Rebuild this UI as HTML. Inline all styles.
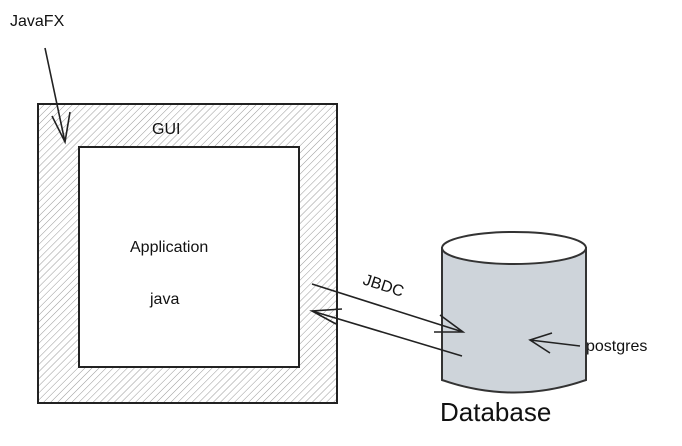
<!DOCTYPE html>
<html><head><style>body{margin:0;background:#fff;width:682px;height:441px;overflow:hidden}</style></head>
<body>
<svg width="682" height="441" xmlns="http://www.w3.org/2000/svg" font-family="'Comic Sans MS','Liberation Sans',sans-serif">
<defs>
<pattern id="h" width="5" height="5" patternUnits="userSpaceOnUse" patternTransform="rotate(45)">
<line x1="0" y1="0" x2="0" y2="5" stroke="#999" stroke-width="1"/>
</pattern>
</defs>
<rect x="38" y="104" width="299" height="299" fill="url(#h)" stroke="#222" stroke-width="2"/>
<rect x="79" y="147" width="220" height="220" fill="#fff" stroke="#222" stroke-width="2"/>
<text x="10" y="26" font-size="16" fill="#111">JavaFX</text>
<text x="152" y="134" font-size="16" fill="#111">GUI</text>
<text x="130" y="252" font-size="16" fill="#111">Application</text>
<text x="150" y="304" font-size="16" fill="#111">java</text>
<path d="M45 48 L65 142 M52 116 L65 142 L70 112" fill="none" stroke="#222" stroke-width="1.6"/>
<path d="M442 248 L442 380 Q514 405 586 380 L586 248 Z" fill="#ced4da" stroke="#333" stroke-width="2"/>
<ellipse cx="514" cy="248" rx="72" ry="16" fill="#fff" stroke="#333" stroke-width="2"/>
<path d="M312 284 L463 332 M440 315 L463 332 L434 332" fill="none" stroke="#222" stroke-width="1.6"/>
<path d="M462 356 L312 311 M342 309 L312 311 L336 324" fill="none" stroke="#222" stroke-width="1.6"/>
<text x="362" y="284" font-size="16" fill="#111" transform="rotate(18 362 284)">JBDC</text>
<path d="M580 346 L530 340 M552 333 L530 340 L550 353" fill="none" stroke="#222" stroke-width="1.6"/>
<text x="586" y="351" font-size="16" fill="#111">postgres</text>
<text x="440" y="421" font-size="26" fill="#111">Database</text>
</svg>
</body></html>
